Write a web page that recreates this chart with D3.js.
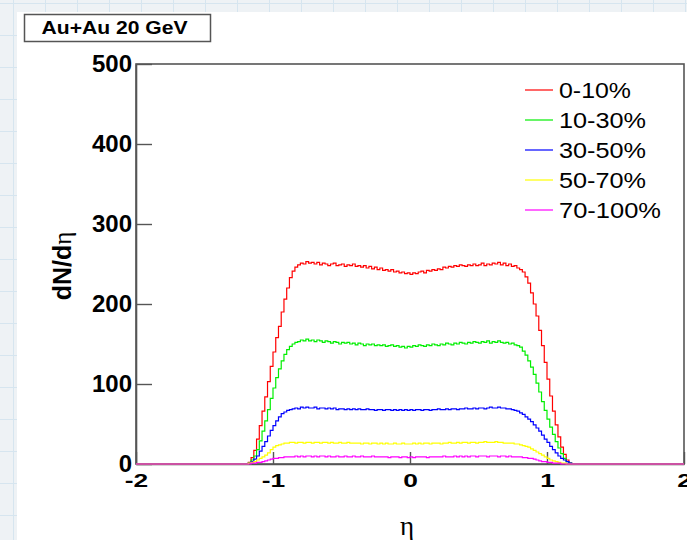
<!DOCTYPE html>
<html><head><meta charset="utf-8">
<script src="https://cdn.jsdelivr.net/npm/d3@7"></script>
<style>html,body{margin:0;padding:0;background:#eef2f5;} svg{display:block;}</style>
</head><body>
<svg id="chart" width="687" height="540"></svg>
<script>
// ---------- data ----------
const titleText = "Au+Au 20 GeV";
const xTicks = [-2, -1, 0, 1, 2];
const yTicks = [0, 100, 200, 300, 400, 500];
const centralityLabels = ["0-10%", "10-30%", "30-50%", "50-70%", "70-100%"];

// bin centres in eta (bin width 0.02); outside this range all classes are 0
const etaCenters = [
 -1.19,-1.17,-1.15,-1.13,-1.11,-1.09,-1.07,-1.05,-1.03,-1.01,
 -0.99,-0.97,-0.95,-0.93,-0.91,-0.89,-0.87,-0.85,-0.83,-0.81,
 -0.79,-0.77,-0.75,-0.73,-0.71,-0.69,-0.67,-0.65,-0.63,-0.61,
 -0.59,-0.57,-0.55,-0.53,-0.51,-0.49,-0.47,-0.45,-0.43,-0.41,
 -0.39,-0.37,-0.35,-0.33,-0.31,-0.29,-0.27,-0.25,-0.23,-0.21,
 -0.19,-0.17,-0.15,-0.13,-0.11,-0.09,-0.07,-0.05,-0.03,-0.01,
  0.01, 0.03, 0.05, 0.07, 0.09, 0.11, 0.13, 0.15, 0.17, 0.19,
  0.21, 0.23, 0.25, 0.27, 0.29, 0.31, 0.33, 0.35, 0.37, 0.39,
  0.41, 0.43, 0.45, 0.47, 0.49, 0.51, 0.53, 0.55, 0.57, 0.59,
  0.61, 0.63, 0.65, 0.67, 0.69, 0.71, 0.73, 0.75, 0.77, 0.79,
  0.81, 0.83, 0.85, 0.87, 0.89, 0.91, 0.93, 0.95, 0.97, 0.99,
  1.01, 1.03, 1.05, 1.07, 1.09, 1.11, 1.13, 1.15, 1.17, 1.19
];

const dNdEta_0_10 = [
 0,2,8,17,31,48,66,84,103,122,
 140,158,172,190,206,220,233,241,246,249,
 251,250,253,251,252,250,252,249,251,250,
 248,250,251,248,249,250,247,249,248,250,
 247,248,246,248,245,247,244,246,243,245,
 242,243,241,243,240,241,239,240,238,239,
 237,239,238,240,241,239,242,241,243,242,
 244,243,246,245,247,246,248,247,249,248,
 247,249,248,250,248,249,251,248,250,249,
 251,250,252,249,251,248,250,247,248,245,
 243,240,234,226,214,200,185,167,148,127,
 106,85,66,49,34,21,12,5,1,0
];
const dNdEta_10_30 = [
 0,1,5,10,18,29,41,54,68,82,
 95,108,119,129,137,143,147,150,152,153,
 155,154,156,154,155,153,155,154,152,154,
 153,151,153,152,150,152,151,152,150,151,
 149,151,150,148,150,149,150,148,149,148,
 149,147,148,149,147,148,146,147,145,147,
 146,148,147,149,148,147,149,148,150,149,
 148,150,149,151,150,149,151,150,152,151,
 150,152,151,153,152,151,153,152,154,151,
 153,152,154,152,151,152,150,151,149,148,
 146,141,136,129,121,112,101,90,78,67,
 56,46,37,28,20,13,7,3,1,0
];
const dNdEta_30_50 = [
 0,1,3,6,10,16,22,28,35,42,
 48,54,59,63,65,67,68,69,70,69,
 71,70,71,70,70,71,69,70,70,69,
 70,69,70,68,69,69,68,69,68,69,
 68,69,68,68,69,68,68,67,68,68,
 67,68,68,67,68,67,68,67,68,67,
 68,67,68,68,67,68,68,67,68,68,
 69,68,68,69,68,69,69,68,69,69,
 70,69,69,70,69,70,70,69,70,71,
 70,70,71,70,70,69,69,68,67,66,
 64,62,59,56,53,49,45,41,36,31,
 27,22,18,14,10,7,5,3,1,0
];
const dNdEta_50_70 = [
 0,1,2,3,5,7,9,11,14,18,
 21,23,24,25,26,26,27,27,26,27,
 27,26,27,27,26,27,27,26,27,27,
 26,27,26,26,27,26,26,27,26,26,
 26,26,25,26,26,25,26,26,25,26,
 25,26,25,25,26,25,25,26,25,25,
 25,26,25,26,25,26,26,25,26,26,
 26,25,26,26,27,26,26,27,26,27,
 27,26,27,27,26,27,27,28,27,27,
 27,28,27,27,26,26,26,26,25,25,
 24,23,22,21,19,17,15,13,11,9,
 7,5,4,3,2,1,1,0,0,0
];
const dNdEta_70_100 = [
 0,0,1,1,2,2,3,4,5,6,
 7,7,8,8,9,9,9,9,10,9,
 10,9,10,10,9,10,9,10,10,9,
 10,9,9,10,9,9,10,9,9,10,
 9,9,10,9,9,9,10,9,9,9,
 9,9,8,9,9,9,8,9,9,8,
 9,8,9,9,9,9,8,9,9,9,
 9,9,10,9,9,9,10,9,10,9,
 10,9,10,10,9,10,10,10,9,10,
 10,10,9,10,10,9,10,9,9,9,
 9,8,8,7,7,6,5,4,3,3,
 2,2,1,1,1,0,0,0,0,0
];

// ---------- drawing ----------
const palette = ["#ff0000", "#00ee00", "#0000ff", "#ffff00", "#ff00ff"];
const allSeries = [dNdEta_0_10, dNdEta_10_30, dNdEta_30_50, dNdEta_50_70, dNdEta_70_100];

const svg = d3.select("#chart");
const axisColor = "#555";

// background grid (outside the canvas)
const bg = svg.append("g");
bg.append("rect").attr("width", 687).attr("height", 540).attr("fill", "#eef2f5");
bg.selectAll("line.v").data(d3.range(13, 687, 32)).join("line")
  .attr("x1", d => d + 0.5).attr("x2", d => d + 0.5).attr("y1", 0).attr("y2", 540)
  .attr("stroke", "#d6e5ef").attr("stroke-width", 1);
bg.selectAll("line.h").data(d3.range(3, 540, 32)).join("line")
  .attr("y1", d => d + 0.5).attr("y2", d => d + 0.5).attr("x1", 0).attr("x2", 687)
  .attr("stroke", "#d6e5ef").attr("stroke-width", 1);

// white canvas
svg.append("rect").attr("x", 17).attr("y", 12).attr("width", 670).attr("height", 528).attr("fill", "#ffffff");

const x = d3.scaleLinear().domain([xTicks[0], xTicks[xTicks.length - 1]]).range([136, 684]);
const y = d3.scaleLinear().domain([yTicks[0], yTicks[yTicks.length - 1]]).range([464, 64]);

// frame
svg.append("rect")
  .attr("x", x.range()[0]).attr("y", y.range()[1])
  .attr("width", x.range()[1] - x.range()[0]).attr("height", y.range()[0] - y.range()[1])
  .attr("fill", "none").attr("stroke", axisColor).attr("stroke-width", 1.6);

// y axis
const gy = svg.append("g").attr("transform", `translate(${x.range()[0]},0)`)
  .call(d3.axisLeft(y).tickValues(yTicks).tickFormat(d3.format("d")).tickSize(-16).tickSizeOuter(0).tickPadding(4));
gy.select(".domain").attr("stroke", axisColor).attr("stroke-width", 1.6);
gy.selectAll(".tick line").attr("stroke", axisColor).attr("stroke-width", 1.4);
gy.selectAll(".tick text")
  .attr("fill", "#000").attr("font-family", "'Liberation Sans', Arial, sans-serif")
  .attr("font-weight", "bold").attr("font-size", 24).attr("dy", "0.33em");

// x axis
const gx = svg.append("g").attr("transform", `translate(0,${y.range()[0]})`)
  .call(d3.axisBottom(x).tickValues(xTicks).tickFormat(d3.format("d")).tickSize(-12).tickSizeOuter(0));
gx.select(".domain").attr("stroke", axisColor).attr("stroke-width", 1.6);
gx.selectAll(".tick line").attr("stroke", axisColor).attr("stroke-width", 1.4);
gx.selectAll(".tick text")
  .attr("fill", "#000").attr("font-family", "'Liberation Sans', Arial, sans-serif")
  .attr("font-weight", "bold").attr("font-size", 24)
  .attr("dy", null).attr("y", 23.5 / 0.78)
  .attr("transform", "scale(1.1,0.78)")
  .text(d => d3.format("d")(d).replace("\u2212", "-"));
gy.selectAll(".tick text").text(d => d3.format("d")(d));

// histograms (step curves)
const line = d3.line().x(d => x(d[0])).y(d => y(d[1])).curve(d3.curveStep);
allSeries.forEach((vals, k) => {
  const pts = [[x.domain()[0], 0]].concat(etaCenters.map((e, i) => [e, vals[i]])).concat([[x.domain()[1], 0]]);
  svg.append("path").datum(pts).attr("d", line)
    .attr("fill", "none").attr("stroke", palette[k]).attr("stroke-width", 1.2);
});

// legend
const leg = svg.append("g");
const legWidths = [72, 87, 87, 87, 102];
centralityLabels.forEach((lab, k) => {
  const ly = 90 + 30 * k;
  leg.append("line").attr("x1", 525).attr("x2", 553).attr("y1", ly).attr("y2", ly)
    .attr("stroke", palette[k]).attr("stroke-width", 1.2);
  leg.append("text").attr("x", 559).attr("y", ly + 7.5)
    .attr("font-family", "'Liberation Sans', Arial, sans-serif").attr("font-size", 22)
    .attr("textLength", legWidths[k]).attr("lengthAdjust", "spacingAndGlyphs")
    .attr("fill", "#000").text(lab);
});

// title box
svg.append("rect").attr("x", 24.5).attr("y", 14.5).attr("width", 186).attr("height", 27)
  .attr("fill", "#fff").attr("stroke", axisColor).attr("stroke-width", 1.5);
svg.append("text").attr("x", 41.5).attr("y", 34.3)
  .attr("font-family", "'Liberation Sans', Arial, sans-serif").attr("font-weight", "bold").attr("font-size", 19)
  .attr("textLength", 146).attr("lengthAdjust", "spacingAndGlyphs")
  .attr("fill", "#000").text(titleText);

// axis titles
const yt = svg.append("text").attr("transform", "translate(71,266) rotate(-90)")
  .attr("text-anchor", "middle").attr("font-family", "'Liberation Sans', Arial, sans-serif")
  .attr("font-weight", "bold").attr("font-size", 25).attr("fill", "#000");
yt.append("tspan").text("dN/d");
yt.append("tspan").attr("font-family", "'Liberation Serif', 'DejaVu Serif', serif").attr("font-weight", "normal").text("η");

svg.append("text").attr("x", x(0) - 3).attr("y", 535).attr("text-anchor", "middle")
  .attr("font-family", "'Liberation Serif', 'DejaVu Serif', serif").attr("font-size", 27)
  .attr("fill", "#000").text("η");
</script>
</body></html>
